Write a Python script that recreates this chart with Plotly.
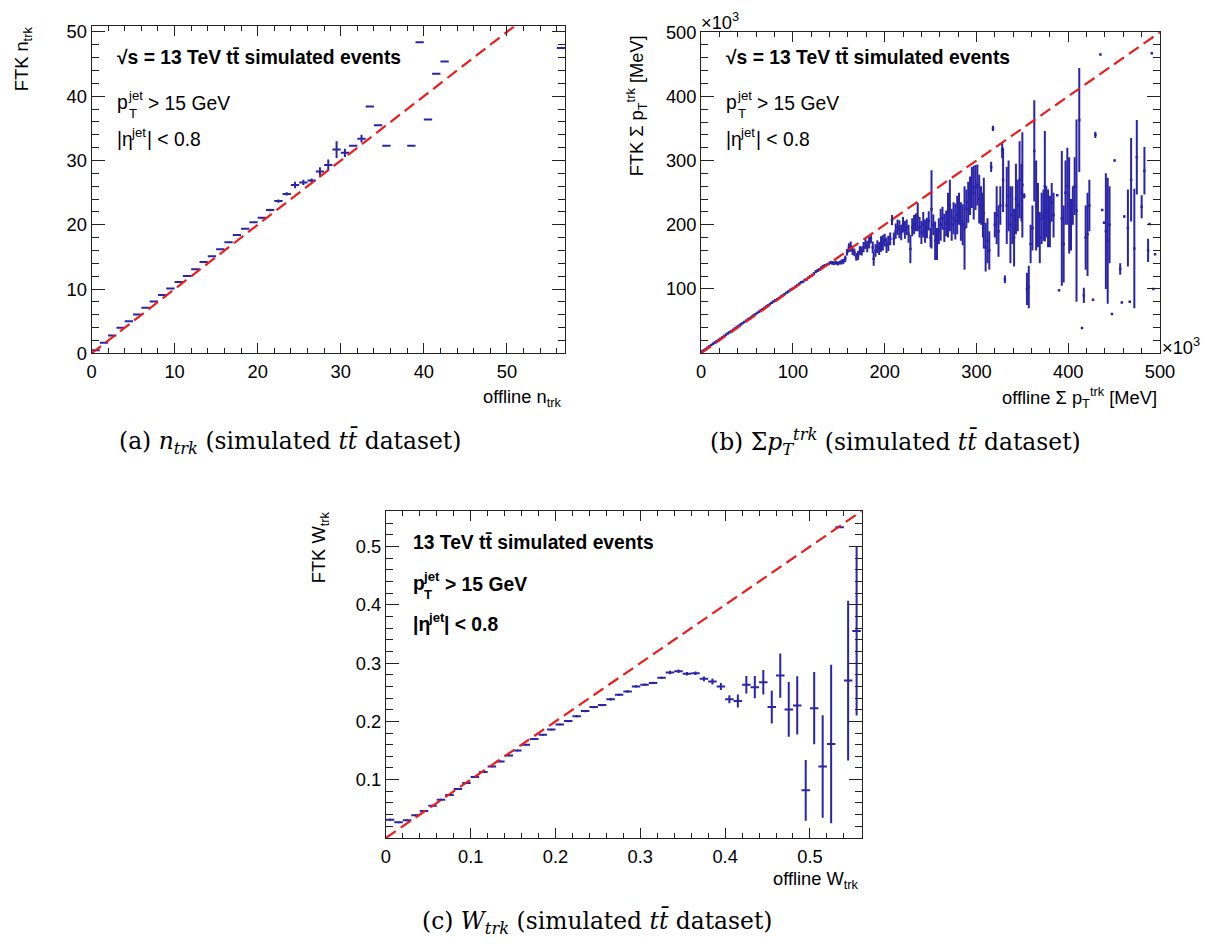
import plotly.graph_objects as go

W, H = 1213, 944

# ---------------- panel (a): n_trk ----------------
a_x = [0.5, 1.5, 2.5, 3.5, 4.5, 5.5, 6.5, 7.5, 8.5, 9.5, 10.5, 11.5, 12.5, 13.5,
       14.5, 15.5, 16.5, 17.5, 18.5, 19.5, 20.5, 21.5, 22.5, 23.5, 24.5, 25.5,
       26.5, 27.5, 28.5, 29.5, 30.5, 31.5, 32.5, 33.5, 34.5, 35.5, 38.5, 39.5,
       40.5, 41.5, 42.5, 56.5]
a_y = [0.5, 1.66, 2.8, 4.0, 5.0, 6.06, 7.1, 8.07, 9.1, 10.1, 11.1, 12.06, 13.1,
       14.2, 15.1, 16.2, 17.3, 18.4, 19.4, 20.4, 21.1, 22.3, 23.7, 24.8, 26.2,
       26.6, 26.9, 28.3, 29.3, 31.7, 31.2, 32.3, 33.4, 38.4, 35.5, 32.3, 32.3,
       48.4, 36.4, 43.5, 45.4, 47.5]
a_err = [0.05, 0.05, 0.05, 0.05, 0.05, 0.05, 0.05, 0.05, 0.05, 0.05, 0.05, 0.05,
         0.05, 0.05, 0.05, 0.05, 0.05, 0.05, 0.05, 0.05, 0.1, 0.2, 0.25, 0.25,
         0.5, 0.4, 0.3, 0.67, 0.85, 1.3, 0.65, 0.0, 0.6, 0.0, 0.0, 0.0, 0.0,
         0.0, 0.0, 0.0, 0.0, 0.0]
a_range = [0, 57]
a_yrange = [0, 50.9]

# ---------------- panel (b): sum pT (x10^3 MeV) ----------------
b_x = [1, 3, 5, 7, 9, 11, 13, 15, 17, 19, 21, 23, 25, 27, 29, 31, 33, 35, 37, 39,
       41, 43, 45, 47, 49, 51, 53, 55, 57, 59, 61, 63, 65, 67, 69, 71, 73, 75, 77,
       79, 81, 83, 85, 87, 89, 91, 93, 95, 97, 99, 101, 103, 105, 107, 109, 111,
       113, 115, 117, 119, 121, 123, 125, 127, 129, 131, 133, 135, 137, 139,
       141, 143, 145, 147, 149, 151, 153, 155, 157, 159, 161, 163, 165, 167, 169,
       171, 173, 175, 177, 179, 181, 183, 185, 187, 188, 190, 192, 194, 196, 198,
       200, 202, 204, 206, 208, 210, 212, 214, 216, 218, 220, 222, 224, 226, 228,
       230, 232, 234, 236, 238, 240, 242, 244, 246, 248, 250, 251, 253, 255, 257,
       259, 261, 263, 265, 267, 269, 271, 273, 275, 277, 279, 281, 283, 285, 287,
       289, 291, 293, 295, 297, 299, 301, 303, 305, 307, 308, 310, 312, 314, 316,
       318, 320, 322, 324, 326, 328, 329, 331, 333, 335, 337, 339, 341, 343, 345,
       347, 349, 350, 352, 355, 357, 359, 361, 363, 365, 367, 369, 371, 373,
       374.5, 376, 378, 380, 382, 384, 388, 390, 393, 395, 397, 399, 401, 403,
       405, 407, 409, 412, 415, 417, 419, 421, 423, 427, 429.5, 435, 437, 439,
       441, 443, 445, 447.6, 450.5, 456.6, 458.4, 461, 465, 467, 468.5, 472,
       474.7, 480, 483, 487, 488.5, 491, 492.8, 494.6]
b_y = [2.5, 4.5, 6.5, 8.5, 10.5, 12.5, 14.5, 16.5, 18.5, 20.5, 22.5, 24.5, 26.5,
       28.5, 30.5, 32.5, 34.5, 36.5, 38.5, 40.5, 42.5, 44.5, 46.5, 48.5, 50.5,
       52.5, 54.5, 56.5, 58.5, 60.5, 62.5, 64.5, 66.5, 68.5, 70.5, 72.5, 74.5,
       76.5, 78.5, 80.5, 82.5, 84.0, 86.0, 88.0, 90.0, 92.0, 94.0, 96.0, 98.5,
       100.0, 101.5, 103.5, 106.0, 108.0, 110.5, 111.0, 114.0, 115.0, 117.5,
       120.0, 121.5, 124.0, 127.0, 128.5, 130.5, 133.0, 135.5, 136.5, 137.5,
       139.0,
       141, 140.5, 140, 141, 139.5, 141, 142, 143, 147, 157, 164, 166, 160, 157,
       150, 152, 160, 159, 165, 170, 166, 172, 178, 165, 147, 160, 166, 163, 170,
       172, 176, 168, 171, 178, 207, 178, 190, 196, 193, 188, 200, 192, 196, 186,
       162, 196, 200, 204, 212, 196, 188, 200, 190, 195, 206, 180, 224, 200, 175,
       170, 190, 200, 210, 195, 202, 215, 230, 200, 210, 205, 215, 225, 205, 200,
       195, 225, 235, 245, 258, 250, 258, 262, 240, 230, 215, 218, 165, 175, 160,
       290, 350, 200, 215, 190, 230, 316, 270, 115, 230, 245, 200, 215, 180, 240,
       230, 270, 250, 262, 245, 100, 103, 170, 195, 315, 230, 215, 180, 210, 215,
       260, 220, 210, 205, 235, 215, 246, 98, 210, 170, 250, 260, 230, 200, 230,
       260, 222, 363, 39, 90, 180, 185, 230, 83, 340, 465, 223, 203, 190, 175,
       200, 61, 300, 131, 79, 213, 195, 80, 270, 163, 305, 228, 284, 160, 201,
       467, 100, 154]
b_err = [1, 1, 1, 1, 1, 1, 1, 1, 1, 1, 1, 1, 1, 1, 1, 1, 1, 1, 1, 1, 1, 1, 1, 1,
         1, 1, 1, 1, 1, 1, 1, 1, 1, 1, 1, 1, 1, 1, 1, 1, 1, 1, 1, 1, 1, 1, 1, 1,
         1, 1, 1.5, 1.5, 1.5, 1.5, 1.5, 1.5, 1.5, 1.5, 1.5, 1.5, 2, 2, 2, 2, 2,
         2, 2, 2, 2, 2,
         2.5, 3, 3, 3, 3, 3, 4, 4, 5, 5, 7, 8, 7, 6, 6, 7, 7, 7, 8, 8, 9, 9, 7, 9,
         11, 10, 10, 10, 12, 12, 10, 12, 12, 10, 8, 10, 12, 12, 14, 12, 12, 14, 12,
         14, 22, 14, 15, 14, 22, 16, 18, 20, 18, 16, 15, 15, 61, 16, 30, 25, 20,
         25, 18, 22, 20, 35, 40, 25, 25, 28, 30, 25, 30, 32, 65, 30, 32, 30, 32,
         42, 35, 32, 38, 30, 35, 55, 38, 35, 30, 8, 4, 20, 45, 40, 30, 12, 50, 6,
         60, 55, 60, 45, 45, 55, 40, 60, 45, 82, 4, 25, 33, 30, 35, 79, 70, 50,
         40, 40, 40, 86, 40, 45, 40, 30, 35, 0, 0, 105, 60, 50, 60, 75, 40, 30,
         45, 142, 81, 0, 12, 50, 65, 40, 0, 5, 0, 0, 0, 90, 98, 60, 0, 0, 9, 0, 0,
         60, 0, 65, 93, 58, 18, 37, 18, 0, 0, 0, 0]
b_range = [0, 500]

# ---------------- panel (c): W_trk ----------------
c_x = [0.005, 0.015, 0.025, 0.035, 0.045, 0.055, 0.065, 0.075, 0.085, 0.095,
       0.105, 0.115, 0.125, 0.135, 0.145, 0.155, 0.165, 0.175, 0.185, 0.195,
       0.205, 0.215, 0.225, 0.235, 0.245, 0.255, 0.265, 0.275, 0.285, 0.295,
       0.305, 0.315, 0.325, 0.335, 0.345, 0.355, 0.365, 0.375, 0.385, 0.395,
       0.405, 0.415, 0.425, 0.435, 0.445, 0.455, 0.465, 0.475, 0.485, 0.495,
       0.505, 0.515, 0.525, 0.535, 0.545, 0.555]
c_y = [0.0313, 0.0267, 0.0302, 0.0388, 0.0462, 0.0553, 0.0656, 0.0736, 0.0839,
       0.0942, 0.1045, 0.113, 0.1227, 0.1313, 0.1416, 0.150, 0.160, 0.1696,
       0.177, 0.186, 0.1947, 0.2005, 0.209, 0.2176, 0.2245, 0.228, 0.238,
       0.2456, 0.2513, 0.260, 0.263, 0.266, 0.2747, 0.2839, 0.286, 0.2816,
       0.2827, 0.273, 0.2684, 0.260, 0.238, 0.235, 0.263, 0.2587, 0.2673,
       0.2245, 0.2787, 0.2205, 0.2273, 0.0816, 0.2227, 0.1227, 0.161, 0.533,
       0.27, 0.355]
c_err = [0.0015, 0.0015, 0.0015, 0.0015, 0.0015, 0.0015, 0.0015, 0.0015, 0.0015,
         0.0015, 0.0015, 0.0015, 0.0015, 0.0015, 0.0015, 0.0015, 0.0015, 0.0015,
         0.0015, 0.0015, 0.0015, 0.002, 0.002, 0.002, 0.002, 0.002, 0.002,
         0.002, 0.002, 0.002, 0.002, 0.002, 0.002, 0.003, 0.003, 0.003, 0.003,
         0.004, 0.005, 0.006, 0.007, 0.011, 0.015, 0.019, 0.021, 0.028, 0.038,
         0.047, 0.05, 0.052, 0.062, 0.088, 0.136, 0.0, 0.137, 0.145]
c_range = [0, 0.561]

BLUE = "#2a24a8"
RED = "#ee1c1c"
SANS = "Liberation Sans, Arial, Helvetica, sans-serif"
SERIF = "DejaVu Serif, serif"

# calibration of page pixels -> photographed pixels (measured from earlier renders)
SX, BX = 0.988, 1.4
SY, BY = 0.980, 8.8
FS = 1.0 / 0.984


def TX(ix):
    return (ix - BX) / SX


def TY(iy):
    return (iy - BY) / SY


def fs(s):
    return round(s * FS, 1)


fig = go.Figure()


def hist_points(x, y, err, xhalf, xa, ya, msize=0, show_marker=False):
    mcol = BLUE if show_marker else "rgba(0,0,0,0)"
    fig.add_trace(go.Scatter(
        x=x, y=y, mode="markers", xaxis=xa, yaxis=ya, showlegend=False,
        hoverinfo="skip",
        marker=dict(color=mcol, size=max(msize, 1), symbol="square", line=dict(width=0)),
        error_x=dict(type="constant", value=xhalf, width=0, thickness=2, color=BLUE),
        error_y=dict(type="data", array=err, width=0, thickness=2, color=BLUE, symmetric=True),
    ))


def diag(rng, xa, ya):
    fig.add_trace(go.Scatter(
        x=[rng[0], rng[1]], y=[rng[0], rng[1]], mode="lines", xaxis=xa, yaxis=ya,
        showlegend=False, hoverinfo="skip",
        line=dict(color=RED, width=2.2, dash="12px,6px"),
    ))


hist_points(a_x, a_y, a_err, 0.5, "x", "y")
diag(a_range, "x", "y")
hist_points(b_x, b_y, b_err, 0.5, "x2", "y2", msize=2.5, show_marker=True)
diag(b_range, "x2", "y2")
hist_points(c_x, c_y, c_err, 0.005, "x3", "y3")
diag(c_range, "x3", "y3")


def dom_x(p0, p1):
    return [TX(p0) / W, TX(p1) / W]


def dom_y(top, bottom):
    return [1 - TY(bottom) / H, 1 - TY(top) / H]


def ax(domain, rng, dtick, mdtick, tl, mtl, anchor, tickvals=None, standoff=None):
    d = dict(domain=domain, range=rng, anchor=anchor, showgrid=False, zeroline=False,
             showline=True, linecolor="#222", linewidth=1, mirror="ticks",
             ticks="inside", ticklen=tl, tickwidth=1, tickcolor="#222",
             tickfont=dict(family=SANS, size=fs(18), color="black"),
             minor=dict(ticks="inside", ticklen=mtl, tickwidth=1, tickcolor="#222",
                        dtick=mdtick, tick0=0, showgrid=False))
    if tickvals is not None:
        d["tickmode"] = "array"
        d["tickvals"] = tickvals
    else:
        d["dtick"] = dtick
        d["tick0"] = 0
    if standoff is not None:
        d["ticklabelstandoff"] = standoff
    return d


fig.update_layout(
    width=W, height=H, autosize=False, margin=dict(l=0, r=0, t=0, b=0, pad=0),
    paper_bgcolor="white", plot_bgcolor="white", hovermode=False,
    xaxis=ax(dom_x(88.3, 564), a_range, 10, 2, 10, 5, "y", standoff=2),
    yaxis=ax(dom_y(24, 352), a_yrange, 10, 2, 13, 7, "x"),
    xaxis2=ax(dom_x(700.7, 1161.7), b_range, 100, 20, 10, 5, "y2", standoff=2),
    yaxis2=ax(dom_y(30, 351.7), b_range, 100, 20, 13, 7, "x2",
              tickvals=[100, 200, 300, 400, 500]),
    xaxis3=ax(dom_x(384, 862), c_range, 0.1, 0.02, 10, 5, "y3", standoff=2),
    yaxis3=ax(dom_y(510, 837.6), c_range, 0.1, 0.02, 13, 7, "x3",
              tickvals=[0.1, 0.2, 0.3, 0.4, 0.5]),
)

anns = []


def ann(text, px, py, size=19, xanchor="left", yanchor="middle", angle=0,
        family=SANS, bold=False):
    if bold:
        text = "<b>" + text + "</b>"
    anns.append(dict(text=text, x=TX(px) / W, y=1 - TY(py) / H,
                     xref="paper", yref="paper",
                     showarrow=False, xanchor=xanchor, yanchor=yanchor,
                     textangle=angle, font=dict(family=family, size=fs(size), color="black")))


def info_block(x0, y1, y2, y3, first, bold2=False, sup_dx=10.5, gt_dx=31, eta_dx=14, lt_dx=30):
    ann(first, x0, y1, bold=True)
    ann("p", x0, y2 - 1, bold=bold2)
    ann("jet", x0 + sup_dx, y2 - 8, size=13, bold=bold2)
    ann("T", x0 + sup_dx + 1, y2 + 10, size=13, bold=bold2)
    ann("> 15 GeV", x0 + gt_dx, y2, bold=bold2)
    ann("|\u03b7", x0, y3, bold=bold2)
    ann("jet", x0 + eta_dx, y3 - 7, size=13, bold=bold2)
    ann("| < 0.8", x0 + lt_dx, y3, bold=bold2)


TT = "t t\u0304".replace(" ", "")
info_block(112, 55, 101.5, 138, "\u221as = 13 TeV " + TT + " simulated events")
info_block(724, 55, 101.5, 138, "\u221as = 13 TeV " + TT + " simulated events")
info_block(409, 541.7, 583.5, 624, "13 TeV " + TT + " simulated events", bold2=True,
           sup_dx=10.5, gt_dx=32, eta_dx=15, lt_dx=31)

# axis titles
ann("FTK n<sub>trk</sub>", 19, 22, size=18, xanchor="center", yanchor="top", angle=-90)
ann("offline n<sub>trk</sub>", 563, 397, size=18, xanchor="right")
ann("FTK \u03a3 p<sub>T</sub><sup>trk</sup> [MeV]", 636, 31, size=18, xanchor="center",
    yanchor="top", angle=-90)
ann("offline \u03a3 p<sub>T</sub><sup>trk</sup> [MeV]", 1161, 396, size=18, xanchor="right")
ann("FTK W<sub>trk</sub>", 318, 508, size=18, xanchor="center", yanchor="top", angle=-90)
ann("offline W<sub>trk</sub>", 861, 880, size=18, xanchor="right")

# exponent labels
ann("\u00d710<sup>3</sup>", 699, 19, size=18)
ann("\u00d710<sup>3</sup>", 1162, 345, size=18)

# captions
ann("(a) <i>n<sub>trk</sub></i> (simulated <i>" + TT + "</i> dataset)", 288, 441,
    size=23, xanchor="center", family=SERIF)
ann("(b) \u03a3<i>p<sub>T</sub><sup>trk</sup></i> (simulated <i>" + TT + "</i> dataset)",
    896, 441, size=23, xanchor="center", family=SERIF)
ann("(c) <i>W<sub>trk</sub></i> (simulated <i>" + TT + "</i> dataset)", 596, 921.5,
    size=23, xanchor="center", family=SERIF)

fig.update_layout(annotations=anns)
fig.write_html(
    "out.html",
    config={"displayModeBar": False, "staticPlot": True},
    post_script="document.body.style.margin='0';document.body.style.padding='0';"
                "document.documentElement.style.overflow='hidden';",
)
